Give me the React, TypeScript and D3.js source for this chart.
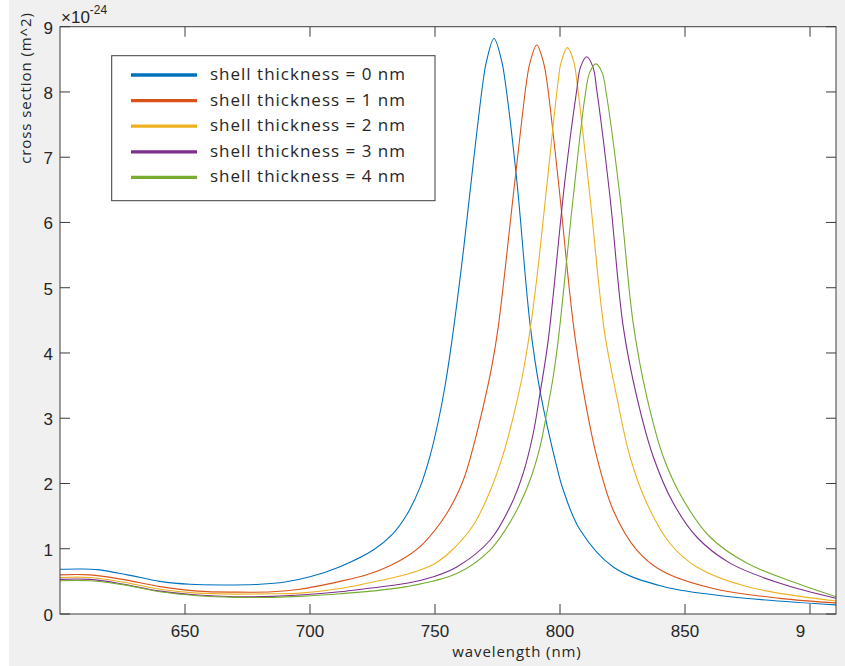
import React from 'react';
import * as d3 from 'd3';

const SERIES_NAMES = [
  'shell thickness = 0 nm',
  'shell thickness = 1 nm',
  'shell thickness = 2 nm',
  'shell thickness = 3 nm',
  'shell thickness = 4 nm',
];
const COLORS = ['#0072BD', '#D95319', '#EDB120', '#7E2F8E', '#77AC30'];

const WL_0 = [600, 608, 615, 627, 640, 652, 665, 680, 690, 700, 712, 725.3, 733.3, 738.7, 744, 748, 751.3, 754, 756.7, 761.4, 765.3, 769.3, 770.6, 773.6, 776.7, 778, 782.7, 788, 792, 798.7, 801.3, 808, 821.3, 841.3, 868, 910.4];
const CS_0 = [0.685, 0.69, 0.68, 0.6, 0.5, 0.455, 0.445, 0.455, 0.49, 0.57, 0.725, 0.98, 1.236, 1.52, 1.94, 2.42, 2.95, 3.49, 4.17, 5.58, 6.91, 8.18, 8.47, 8.82, 8.47, 8.18, 6.65, 4.45, 3.42, 2.26, 1.9, 1.29, 0.72, 0.42, 0.265, 0.14];

const WL_1 = [600, 612, 625, 640, 655, 670, 685, 696, 712, 722.7, 732, 738.7, 745.3, 754.7, 761.3, 765.3, 769.3, 772.7, 775.3, 782, 786.7, 788, 790.7, 793.4, 794.7, 799.3, 805.3, 809.3, 814.7, 821.3, 830.7, 841.3, 861.3, 888, 910.4];
const CS_1 = [0.6, 0.6, 0.53, 0.42, 0.35, 0.335, 0.34, 0.38, 0.5, 0.6, 0.74, 0.88, 1.08, 1.54, 2.05, 2.56, 3.18, 3.79, 4.4, 6.65, 8.18, 8.45, 8.72, 8.45, 8.18, 6.65, 4.45, 3.43, 2.41, 1.59, 0.98, 0.65, 0.39, 0.24, 0.17];

const WL_2 = [600, 612, 625, 640, 655, 670, 685, 696, 712, 722.7, 738.7, 749.3, 756, 765.3, 772, 777.3, 781.3, 785.3, 788.4, 791.5, 794.7, 799.3, 800.4, 803, 805.6, 806.7, 812, 817.7, 822.7, 828, 834.7, 844, 854.7, 874.7, 910.4];
const CS_2 = [0.56, 0.56, 0.49, 0.38, 0.32, 0.305, 0.31, 0.32, 0.39, 0.47, 0.61, 0.76, 0.95, 1.36, 1.88, 2.45, 3.02, 3.72, 4.45, 5.4, 6.55, 8.18, 8.45, 8.68, 8.45, 8.18, 6.39, 4.35, 3.33, 2.41, 1.7, 1.08, 0.72, 0.42, 0.2];

const WL_3 = [600, 612, 625, 640, 655, 670, 685, 696, 712, 722.7, 738.7, 749.3, 758.7, 772, 780, 785.3, 789.3, 792, 795.3, 802, 806.7, 808.2, 810.7, 813.2, 814.7, 820, 825.3, 830.7, 837.3, 845.3, 854.7, 868, 888, 910.4];
const CS_3 = [0.53, 0.53, 0.46, 0.35, 0.29, 0.265, 0.27, 0.29, 0.34, 0.39, 0.47, 0.57, 0.72, 1.13, 1.64, 2.16, 2.77, 3.38, 4.2, 6.65, 8.03, 8.38, 8.54, 8.38, 8.03, 6.39, 4.4, 3.33, 2.41, 1.7, 1.18, 0.78, 0.47, 0.24];

const WL_4 = [600, 612, 625, 640, 655, 670, 685, 696, 712, 738.7, 758.7, 772, 781.3, 788, 792, 794.7, 797.3, 799.3, 805.3, 810, 811.9, 814.35, 816.8, 818.7, 824, 829.3, 834.7, 841.3, 849.3, 860, 874.7, 894.7, 910.4];
const CS_4 = [0.51, 0.51, 0.45, 0.34, 0.28, 0.255, 0.255, 0.27, 0.31, 0.42, 0.62, 0.98, 1.49, 2.05, 2.56, 3.08, 3.64, 4.2, 6.39, 7.93, 8.3, 8.43, 8.3, 7.93, 6.39, 4.45, 3.33, 2.41, 1.75, 1.18, 0.78, 0.47, 0.265];

const WAVELENGTHS = [WL_0, WL_1, WL_2, WL_3, WL_4];
const CROSS_SECTIONS = [CS_0, CS_1, CS_2, CS_3, CS_4];

const X_TICKS = [650, 700, 750, 800, 850, 900];
const X_TICK_LABELS = ['650', '700', '750', '800', '850', '900'];
const Y_TICKS = [0, 1, 2, 3, 4, 5, 6, 7, 8, 9];

const X_DOMAIN = [600, 910.4];
const Y_DOMAIN = [0, 9];

export default function App() {
  const W = 845;
  const H = 666;
  const L = 60, R = 836, T = 26.7, B = 614;
  const x = d3.scaleLinear().domain(X_DOMAIN).range([L, R]);
  const y = d3.scaleLinear().domain(Y_DOMAIN).range([B, T]);
  const tickLen = 10;
  const axisColor = '#3c3c3c';
  const textColor = '#262626';

  const line = d3
    .line<[number, number]>()
    .x((d) => x(d[0]))
    .y((d) => y(d[1]))
    .curve(d3.curveCatmullRom.alpha(0.5));

  const legendX = 111.7, legendY = 55.7, legendW = 323.3, legendH = 145;
  const rowStep = 25.6;

  return (
    <svg
      width={W}
      height={H}
      style={{ position: 'absolute', left: 0, top: 0 }}
      xmlns="http://www.w3.org/2000/svg"
    >
      <defs>
        <clipPath id="plotclip">
          <rect x={L} y={T} width={R - L} height={B - T} />
        </clipPath>
        <clipPath id="xlabclip">
          <rect x={0} y={B} width={x(900) - 5} height={40} />
        </clipPath>
      </defs>
      <rect x={0} y={0} width={W} height={H} fill="#ffffff" />
      <rect x={9} y={0} width={W - 9} height={H} fill="#f0f0f0" />
      <rect x={L} y={T} width={R - L} height={B - T} fill="#ffffff" />

      <g clipPath="url(#plotclip)" fill="none">
        {CROSS_SECTIONS.map((vals, i) => (
          <path
            key={i}
            d={line(vals.map((v, j) => [WAVELENGTHS[i][j], v]) as [number, number][]) || ''}
            stroke={COLORS[i]}
            strokeWidth={1.1}
          />
        ))}
      </g>

      {/* axes box */}
      <rect x={L} y={T} width={R - L} height={B - T} fill="none" stroke={axisColor} strokeWidth={1} />

      {/* x ticks */}
      {X_TICKS.map((t) => (
        <g key={'xt' + t}>
          <line x1={x(t)} x2={x(t)} y1={B} y2={B - tickLen} stroke={axisColor} strokeWidth={1} />
          <line x1={x(t)} x2={x(t)} y1={T} y2={T + tickLen} stroke={axisColor} strokeWidth={1} />
        </g>
      ))}
      <g clipPath="url(#xlabclip)">
        {X_TICKS.map((t, i) => (
          <text
            key={'xl' + t}
            x={x(t)}
            y={B + 23}
            textAnchor="middle"
            fontFamily="'Liberation Sans', Arial, sans-serif"
            fontSize={17}
            fill={textColor}
          >
            {X_TICK_LABELS[i]}
          </text>
        ))}
      </g>

      {/* y ticks */}
      {Y_TICKS.map((t) => (
        <g key={'yt' + t}>
          <line x1={L} x2={L + tickLen} y1={y(t)} y2={y(t)} stroke={axisColor} strokeWidth={1} />
          <line x1={R} x2={R - tickLen} y1={y(t)} y2={y(t)} stroke={axisColor} strokeWidth={1} />
          <text
            x={L - 7}
            y={y(t) + 7}
            textAnchor="end"
            fontFamily="'Liberation Sans', Arial, sans-serif"
            fontSize={17}
            fill={textColor}
          >
            {t}
          </text>
        </g>
      ))}

      {/* exponent */}
      <text x={61} y={22.5} fontFamily="'Liberation Sans', Arial, sans-serif" fontSize={17} fill={textColor}>
        ×10
        <tspan fontSize={12} dy={-9}>-24</tspan>
      </text>

      {/* axis labels */}
      <text
        x={517}
        y={657}
        textAnchor="middle"
        fontFamily="'Open Sans', 'Noto Sans', sans-serif"
        fontSize={15}
        letterSpacing={0.9}
        fill={textColor}
      >
        wavelength (nm)
      </text>
      <text
        transform={`translate(31,88) rotate(-90)`}
        textAnchor="middle"
        fontFamily="'Open Sans', 'Noto Sans', sans-serif"
        fontSize={15}
        letterSpacing={0.9}
        fill={textColor}
      >
        cross section (m^2)
      </text>

      {/* legend */}
      <rect x={legendX} y={legendY} width={legendW} height={legendH} fill="#ffffff" stroke={axisColor} strokeWidth={1} />
      {SERIES_NAMES.map((name, i) => {
        const ry = 75 + i * rowStep;
        return (
          <g key={name}>
            <line x1={131} x2={197} y1={ry} y2={ry} stroke={COLORS[i]} strokeWidth={3.3} />
            <text
              x={210}
              y={ry + 5}
              fontFamily="'Open Sans', 'Noto Sans', sans-serif"
              fontSize={17}
              letterSpacing={1}
              fill={textColor}
            >
              {name}
            </text>
          </g>
        );
      })}
    </svg>
  );
}
